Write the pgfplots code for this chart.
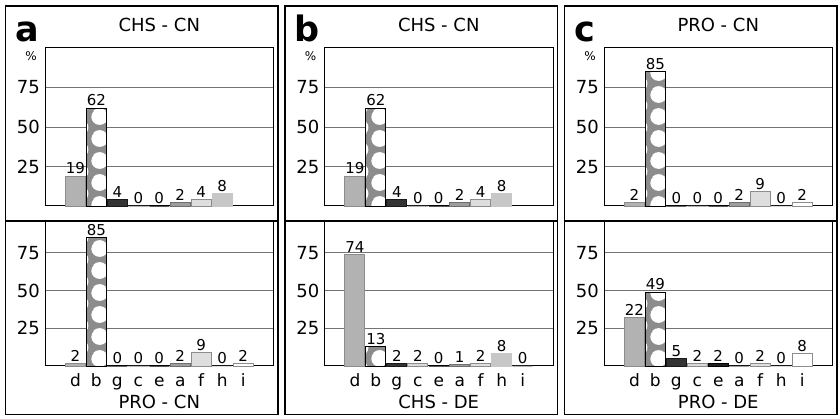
\documentclass[border=0pt]{standalone}
\usepackage{pgfplots}
\pgfplotsset{compat=1.18}
\usepackage{pgfplotstable}
\usepackage{fontspec}
\setmainfont{DejaVu Sans}
\usetikzlibrary{patterns}

% white discs on the "b" bars; the period divides the column offset (279.5pt)
\pgfdeclarepatternformonly{whitediscs}{\pgfqpoint{0pt}{0pt}}{\pgfqpoint{34.9375pt}{22pt}}{\pgfqpoint{34.9375pt}{22pt}}{%
  \pgfpathcircle{\pgfqpoint{30.625pt}{16.7pt}}{8.3pt}%
  \pgfpathcircle{\pgfqpoint{30.625pt}{-5.3pt}}{8.3pt}%
  \pgfpathcircle{\pgfqpoint{-4.3125pt}{16.7pt}}{8.3pt}%
  \pgfpathcircle{\pgfqpoint{-4.3125pt}{-5.3pt}}{8.3pt}%
  \pgfpathcircle{\pgfqpoint{11.125pt}{5.7pt}}{8.3pt}%
  \pgfpathcircle{\pgfqpoint{11.125pt}{27.7pt}}{8.3pt}%
  \pgfusepath{fill}}

\definecolor{edge}{HTML}{8C8C8C}

% bar heights and printed labels, rows d b g c e a f h i
\pgfplotstableread{
x  aT  aTl  aB  aBl  bT  bTl  bB  bBl  cT  cTl  cB  cBl
0  19  19   2   2    19  19   74  74   2   2    32  22
1  62  62   85  85   62  62   13  13   85  85   49  49
2  4   4    0   0    4   4    2   2    0   0    5   5
3  0   0    0   0    0   0    2   2    0   0    2   2
4  0   0    0   0    0   0    0   0    0   0    2   2
5  2   2    2   2    2   2    1   1    2   2    0   0
6  4   4    9   9    4   4    2   2    9   9    2   2
7  8   8    0   0    8   8    8   8    0   0    0   0
8  nan x    2   2    nan x    0   0    2   2    8   8
}\data

\pgfplotsset{
  cat0/.style={fill=black!30, draw=edge},
  cat1/.style={preaction={fill=black!45}, pattern=whitediscs, pattern color=white, draw=black},
  cat2/.style={fill=black!80, draw=black!90},
  cat3/.style={fill=black!15, draw=edge},
  cat4/.style={fill=black!88, draw=black},
  cat5/.style={fill=black!38, draw=black!57},
  cat6/.style={fill=black!13, draw=edge},
  cat7/.style={fill=black!22, draw=black!22},
  cat8/.style={fill=white, draw=edge},
  panel/.style={
    scale only axis, width=228.5pt,
    xmin=-1.45, xmax=9.45, ymin=0,
    every axis plot/.append style={ybar, bar width=20pt, bar shift=0pt, line width=0.9pt},
    ytick={25,50,75}, xtick={0,...,8},
    ymajorgrids, grid style={black!55, line width=0.8pt},
    major tick length=0pt,
    axis line style={black, line width=1pt},
    tick label style={font=\fontsize{18}{18}\selectfont},
    /pgf/number format/assume math mode=true,
    yticklabel style={anchor=east, inner sep=0pt, xshift=-5pt},
    xticklabel style={anchor=base, yshift=-21pt, font=\fontsize{17}{17}\selectfont},
    nodes near coords, point meta=explicit symbolic,
    nodes near coords style={font=\fontsize{15}{15}\selectfont, inner sep=1.5pt, text=black},
    title style={at={(axis description cs:0.5,1)}, anchor=base, yshift=10pt, font=\fontsize{18}{18}\selectfont},
    xlabel style={at={(axis description cs:0.5,0)}, anchor=base, yshift=-43pt, font=\fontsize{18}{18}\selectfont},
    clip=false,
  },
  toppanel/.style={panel, height=158pt, ymax=100, xticklabels={}},
  botpanel/.style={panel, height=145pt, ymax=96, xticklabels={d,b,g,c,e,a,f,h,i}},
}

\newcommand\bars[2]{%
  \pgfplotsinvokeforeach{0,...,8}{%
    \addplot[cat##1, restrict expr to domain={\coordindex}{##1:##1}]
      table[x=x, y=#1, meta=#2] {\data};
  }}

\newcommand\letter[1]{%
  \node[anchor=base west, inner sep=0pt, font=\fontsize{35}{35}\selectfont\bfseries,
        xshift=-30pt, yshift=6pt] at (axis description cs:0,1) {#1};
  \node[inner sep=0pt, font=\fontsize{12}{12}\selectfont,
        xshift=-14pt, yshift=-8.5pt] at (axis description cs:0,1) {\%};}

\begin{document}
\begin{tikzpicture}
\useasboundingbox (0,0) rectangle (840pt,419pt);

% column a
\begin{axis}[toppanel, at={(45pt,213pt)}, anchor=south west, title={CHS - CN}]
  \bars{aT}{aTl}
  \letter{a}
\end{axis}
\begin{axis}[botpanel, at={(45pt,53pt)}, anchor=south west, xlabel={PRO - CN}]
  \bars{aB}{aBl}
\end{axis}

% column b
\begin{axis}[toppanel, at={(324.5pt,213pt)}, anchor=south west, title={CHS - CN}]
  \bars{bT}{bTl}
  \letter{b}
\end{axis}
\begin{axis}[botpanel, at={(324.5pt,53pt)}, anchor=south west, xlabel={CHS - DE}]
  \bars{bB}{bBl}
\end{axis}

% column c
\begin{axis}[toppanel, at={(604pt,213pt)}, anchor=south west, title={PRO - CN}]
  \bars{cT}{cTl}
  \letter{c}
\end{axis}
\begin{axis}[botpanel, at={(604pt,53pt)}, anchor=south west, xlabel={PRO - DE}]
  \bars{cB}{cBl}
\end{axis}

% frames round the columns
\foreach \dx in {0pt,279.5pt,559pt} {
  \draw[line width=1.3pt] ([xshift=\dx]5.5pt,4.5pt) rectangle ([xshift=\dx]278pt,413pt);
  \draw[line width=1.3pt] ([xshift=\dx]5.5pt,198pt) -- ([xshift=\dx]278pt,198pt);
}
\end{tikzpicture}
\end{document}
